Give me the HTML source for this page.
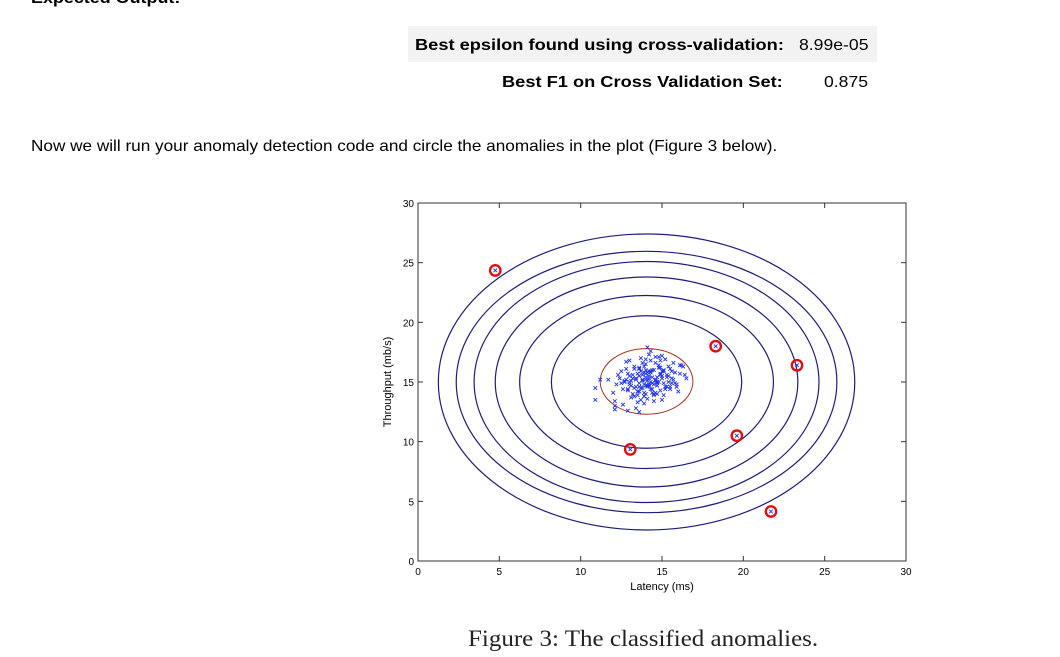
<!DOCTYPE html>
<html><head><meta charset="utf-8">
<style>
body{margin:0;width:1060px;height:657px;background:#fff;overflow:hidden;position:relative;font-family:"Liberation Sans",Arial,sans-serif;color:#000}
.abs{position:absolute;white-space:nowrap;transform-origin:0 0}
</style></head><body>
<div class="abs" style="left:31px;top:-10px;font-size:16px;font-weight:bold;transform:scaleX(1.12)">Expected Output:</div>
<div class="abs" style="left:408px;top:26px;width:469px;height:36px;background:#f2f2f2"></div>
<div class="abs" style="left:415px;top:37px;font-size:16px;font-weight:bold;transform:scaleX(1.14)">Best epsilon found using cross-validation:</div>
<div class="abs" style="left:799px;top:37px;font-size:16px;transform:scaleX(1.1)">8.99e-05</div>
<div class="abs" style="left:502px;top:74px;font-size:16px;font-weight:bold;transform:scaleX(1.14)">Best F1 on Cross Validation Set:</div>
<div class="abs" style="left:824px;top:74px;font-size:16px;transform:scaleX(1.1)">0.875</div>
<div class="abs" style="left:31px;top:138px;font-size:16px;transform:scaleX(1.073)">Now we will run your anomaly detection code and circle the anomalies in the plot (Figure 3 below).</div>
<svg id="chart" class="abs" style="left:0;top:0" width="1060" height="657"></svg>
<div class="abs" style="left:468px;top:626px;font-size:23px;font-family:'Liberation Serif',serif;color:#222;transform:scaleX(1.087)">Figure 3: The classified anomalies.</div>
<script>
const xTicks=[0,5,10,15,20,25,30];
const yTicks=[0,5,10,15,20,25,30];
const contourCenter=[14.05,15.0];
const contourRx=[5.85,7.8,9.3,10.6,11.7,12.8];
const contourRy=[5.55,7.25,8.8,10.1,10.95,12.4];
const epsCenter=[14.05,15.05];
const epsRx=[2.85];
const epsRy=[2.75];
const anomX=[4.75,18.3,23.3,19.6,13.05,21.7];
const anomY=[24.35,18.0,16.4,10.5,9.35,4.15];
const ptsX=[14.1,13.8,14.5,13.2,15.0,14.3,13.6,14.8,12.9,15.4,14.0,13.5,14.7,13.9,15.2,12.7,14.4,13.3,15.8,14.6,13.1,14.2,15.5,13.7,14.9,12.5,16.1,14.0,13.4,15.1,14.3,13.0,15.7,14.6,13.8,12.2,16.3,14.1,13.6,15.3,14.4,12.8,15.9,14.7,13.2,14.0,15.6,13.5,14.8,12.4,16.0,13.9,14.5,12.9,15.2,14.2,11.7,16.5,13.7,15.0,14.1,12.1,15.4,13.3,14.9,13.6,15.8,12.6,14.3,14.6,11.2,10.9,10.9,12.1,12.1,12.9,13.6,14.1,14.5,13.9,16.2,16.1,15.7,15.0,12.0,12.6,13.0,13.4,14.0,14.8,15.3,13.1,14.4,15.5,12.8,13.8,14.2,15.1,13.5,14.7,12.3,16.4,13.0,14.9,15.9,13.6,14.3,12.5,15.6,14.0,
13.9,14.2,14.6,13.4,13.7,14.9,14.4,13.1,15.1,14.0,13.6,14.8,14.3,13.3,15.4,14.1,13.8,14.5,12.9,15.0,14.7,13.5,14.2,13.0,15.3,14.6,13.9,14.4,12.7,15.6,14.1,13.7,14.9,13.2,15.2,14.3,13.6,14.0,15.0,13.4,14.5,13.8,14.7,13.3,15.1,14.2,12.8,15.5,14.0,13.9];
const ptsY=[15.1,15.6,14.8,15.3,15.9,14.4,14.9,16.2,15.7,15.0,16.5,14.2,15.4,13.8,14.6,15.1,16.0,16.3,15.8,14.1,14.7,15.5,16.1,13.5,14.3,15.9,16.4,14.0,15.2,13.9,16.8,15.5,15.2,16.6,14.5,14.8,16.3,13.6,16.1,15.6,14.9,16.7,14.6,15.0,14.0,16.9,15.9,13.3,16.4,15.3,14.2,15.8,13.9,14.4,16.9,17.3,15.2,15.3,17.0,13.5,14.6,13.0,16.3,13.8,15.7,16.2,14.9,14.4,15.0,17.1,15.2,14.5,13.5,13.4,12.7,12.6,12.5,17.9,13.4,13.2,16.4,15.7,16.6,17.2,14.1,13.1,16.8,12.8,16.0,17.1,15.4,13.7,14.1,14.4,16.1,16.6,14.7,15.9,13.9,14.0,15.6,15.6,15.0,16.8,14.8,15.5,17.6,14.9,15.3,14.7,
14.8,15.3,15.2,14.6,15.9,15.6,14.4,15.1,14.9,15.4,14.2,15.0,15.8,14.5,15.5,14.7,15.2,16.0,14.3,15.3,14.9,15.7,15.9,14.8,14.6,15.1,14.1,15.4,15.0,14.9,15.8,14.5,16.2,15.6,14.4,15.9,14.6,15.2,15.5,15.3,14.0,15.1,14.7,16.1,16.0,14.8,15.2,14.6,15.7,16.3];
const L=418,R=906,T=203,B=561;
const sx=v=>L+(v-0)/(30-0)*(R-L);
const sy=v=>B-(v-0)/(30-0)*(B-T);
const svg=document.getElementById('chart');
const NS='http://www.w3.org/2000/svg';
function mk(t,a){const e=document.createElementNS(NS,t);for(const k in a)e.setAttribute(k,a[k]);svg.appendChild(e);return e;}
const frame=mk('rect',{x:L,y:T,width:R-L,height:B-T,fill:'none',stroke:'#333','stroke-width':1});


xTicks.forEach(v=>{
  const x=sx(v);
  mk('line',{x1:x,y1:B,x2:x,y2:B-5,stroke:'#333'});
  mk('line',{x1:x,y1:T,x2:x,y2:T+5,stroke:'#333'});
  const t=mk('text',{x:x,y:B+14,'font-size':10,'text-anchor':'middle','font-family':'Liberation Sans, sans-serif'});
  t.textContent=v;
  
  
});
yTicks.forEach(v=>{
  const y=sy(v);
  mk('line',{x1:L,y1:y,x2:L+5,y2:y,stroke:'#333'});
  mk('line',{x1:R,y1:y,x2:R-5,y2:y,stroke:'#333'});
  const t=mk('text',{x:L-4,y:y+4,'font-size':10,'text-anchor':'end','font-family':'Liberation Sans, sans-serif'});
  t.textContent=v;
  
  
});
const xl=mk('text',{x:(L+R)/2,y:B+29,'font-size':11,'text-anchor':'middle','font-family':'Liberation Sans, sans-serif'});
xl.textContent='Latency (ms)';


const yl=mk('text',{x:0,y:0,'font-size':11,'text-anchor':'middle','font-family':'Liberation Sans, sans-serif',transform:`translate(391,${(T+B)/2}) rotate(-90)`});
yl.textContent='Throughput (mb/s)';


contourRx.forEach((rx,i)=>{
  const e=mk('ellipse',{cx:sx(contourCenter[0]),cy:sy(contourCenter[1]),rx:sx(rx)-sx(0),ry:sy(0)-sy(contourRy[i]),fill:'none',stroke:'#1e1e78','stroke-width':1.2});
  
  
});
epsRx.forEach((rx,i)=>{
  const e=mk('ellipse',{cx:sx(epsCenter[0]),cy:sy(epsCenter[1]),rx:sx(rx)-sx(0),ry:sy(0)-sy(epsRy[i]),fill:'none',stroke:'#a03020','stroke-width':1});
  
  
});
function cross(x,y,s){
  const g=document.createElementNS(NS,'path');
  g.setAttribute('d',`M${x-s},${y-s}L${x+s},${y+s}M${x-s},${y+s}L${x+s},${y-s}`);
  g.setAttribute('stroke','#2233ee');g.setAttribute('stroke-width',0.9);
  svg.appendChild(g);return g;
}
ptsX.forEach((v,i)=>{
  const p=cross(sx(v),sy(ptsY[i]),1.8);
  
  
});
anomX.forEach((v,i)=>{
  const p=cross(sx(v),sy(anomY[i]),1.8);
  
  
  const c=mk('circle',{cx:sx(v),cy:sy(anomY[i]),r:5.2,fill:'none',stroke:'#e01010','stroke-width':2.4});
  
  
});
</script>
</body></html>
